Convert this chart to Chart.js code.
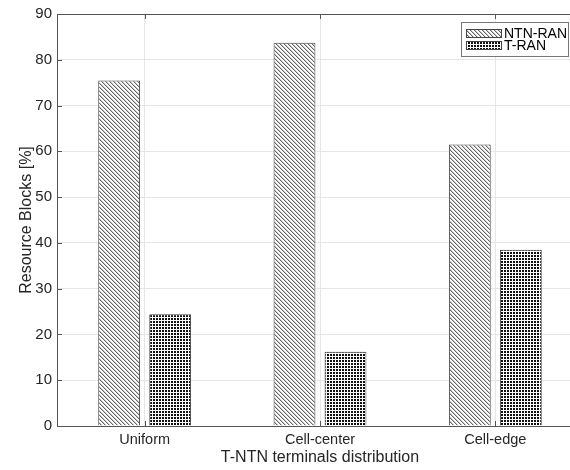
<!DOCTYPE html>
<html>
<head>
<meta charset="utf-8">
<script src="https://cdn.jsdelivr.net/npm/chart.js@4"></script>
<style>
  html, body { margin: 0; padding: 0; background: #fff; overflow: hidden; }
  #wrap { width: 570px; height: 470px; overflow: hidden; position: relative; }
</style>
</head>
<body>
<div id="wrap"><canvas id="chartRB" width="583" height="470"></canvas></div>
<script>
// data
const categories = ['Uniform', 'Cell-center', 'Cell-edge'];
const ntnRan = [75.5, 83.7, 61.5];
const tRan = [24.4, 16.2, 38.5];
const yTickValues = [0, 10, 20, 30, 40, 50, 60, 70, 80, 90];

const FONT = '"Liberation Sans", Arial, Helvetica, sans-serif';
const AXIS = '#555';

// hatch patterns, built on small canvases
function diagPattern() {
    const c = document.createElement('canvas');
    c.width = 4; c.height = 4;
    const g = c.getContext('2d');
    g.fillStyle = '#fff';
    g.fillRect(0, 0, 4, 4);
    for (let i = 0; i < 4; i++) {
        g.fillStyle = '#666';
        g.fillRect(i, i, 1, 1);
        g.fillStyle = '#c8c8c8';
        g.fillRect((i + 1) % 4, i, 1, 1);
    }
    return g.createPattern(c, 'repeat');
}

function dotPattern() {
    const c = document.createElement('canvas');
    c.width = 3; c.height = 3;
    const g = c.getContext('2d');
    g.fillStyle = '#fff';
    g.fillRect(0, 0, 3, 3);
    g.fillStyle = '#111';
    g.fillRect(0, 0, 2, 2);
    return g.createPattern(c, 'repeat');
}

// box frame, inward ticks and the boxed legend (matlab look)
const framePlugin = {
    id: 'frame',
    afterDatasetsDraw(chart) {
        const { ctx, chartArea: a, scales: { x, y } } = chart;
        ctx.save();
        ctx.strokeStyle = AXIS;
        ctx.lineWidth = 1;
        ctx.beginPath();
        y.ticks.forEach(t => {
            const py = Math.round(y.getPixelForValue(t.value)) + 0.5;
            ctx.moveTo(a.left, py);
            ctx.lineTo(a.left + 5, py);
        });
        x.ticks.forEach((t, i) => {
            const px = Math.round(x.getPixelForValue(i)) + 0.5;
            ctx.moveTo(px, a.bottom);
            ctx.lineTo(px, a.bottom - 5);
            ctx.moveTo(px, a.top);
            ctx.lineTo(px, a.top + 5);
        });
        ctx.stroke();
        ctx.strokeRect(Math.round(a.left) + 0.5, Math.round(a.top) + 0.5,
            Math.round(a.right - a.left), Math.round(a.bottom - a.top));

        // legend
        const lx = 461, ly = 22, lw = 107, lh = 34;
        ctx.fillStyle = '#fff';
        ctx.fillRect(lx, ly, lw, lh);
        ctx.strokeStyle = '#777';
        ctx.strokeRect(lx + 0.5, ly + 0.5, lw, lh);
        ctx.font = '14px ' + FONT;
        ctx.textBaseline = 'middle';
        chart.data.datasets.forEach((ds, i) => {
            const sy = ly + 7 + i * 12;
            ctx.fillStyle = ds.backgroundColor;
            ctx.fillRect(lx + 5, sy, 36, 9);
            ctx.strokeStyle = '#444';
            ctx.strokeRect(lx + 5.5, sy + 0.5, 35, 8);
            ctx.fillStyle = '#000';
            ctx.fillText(ds.label, lx + 43, sy + 5);
        });
        ctx.restore();
    }
};

const ctxRB = document.getElementById('chartRB').getContext('2d');
new Chart(ctxRB, {
    type: 'bar',
    data: {
        labels: categories,
        datasets: [{
            label: 'NTN-RAN',
            data: ntnRan,
            backgroundColor: diagPattern(),
            borderColor: '#444',
            borderWidth: 1
        }, {
            label: 'T-RAN',
            data: tRan,
            backgroundColor: dotPattern(),
            borderColor: '#444',
            borderWidth: 1
        }]
    },
    options: {
        responsive: false,
        animation: false,
        events: [],
        categoryPercentage: 0.582,
        barPercentage: 0.82,
        layout: { padding: { top: 14, right: 0, left: 0, bottom: 0 } },
        plugins: {
            legend: { display: false },
            tooltip: { enabled: false }
        },
        scales: {
            x: {
                grid: { offset: false, color: '#e6e6e6', drawTicks: false },
                border: { display: false },
                ticks: { color: '#262626', font: { family: FONT, size: 14.5 }, padding: 5 },
                title: {
                    display: true,
                    text: 'T-NTN terminals distribution',
                    color: '#262626',
                    font: { family: FONT, size: 16 },
                    padding: { top: 0, bottom: 3 }
                },
                afterFit(scale) { scale.height = 44; }
            },
            y: {
                min: 0,
                max: 90,
                afterBuildTicks(scale) {
                    scale.ticks = yTickValues.map(v => ({ value: v }));
                },
                grid: { color: '#e6e6e6', drawTicks: false },
                border: { display: false },
                ticks: { color: '#262626', font: { family: FONT, size: 15 }, padding: 5 },
                title: {
                    display: true,
                    text: 'Resource Blocks [%]',
                    color: '#262626',
                    font: { family: FONT, size: 16 },
                    padding: { top: 17, bottom: 0 }
                },
                afterFit(scale) { scale.width = 57; }
            }
        }
    },
    plugins: [framePlugin]
});
</script>
</body>
</html>
